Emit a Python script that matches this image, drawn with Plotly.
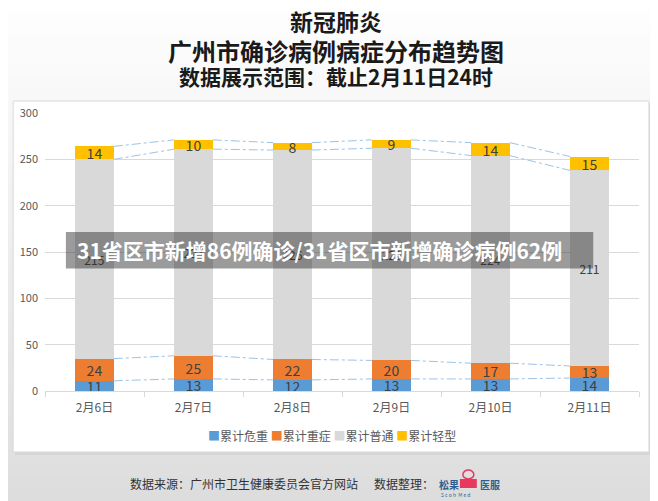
import plotly.graph_objects as go

# 数据
dates = ["2月6日", "2月7日", "2月8日", "2月9日", "2月10日", "2月11日"]
critical = [11, 13, 12, 13, 13, 14]
severe = [24, 25, 22, 20, 17, 13]
common = [215, 223, 226, 229, 224, 211]
mild = [14, 10, 8, 9, 14, 15]
names = ["累计危重", "累计重症", "累计普通", "累计轻型"]
colors = ["#5B9BD5", "#ED7D31", "#D9D9D9", "#FFC000"]

FONT = "Noto Sans CJK SC"
# 页面默认有 8px 的 body 边距，图表整体向左上偏移补偿
OFF = 8
W, H = 658 - OFF, 501 - OFF
L, R, T, B = 42 - OFF, 19, 113 - OFF, 110
PW, PH = W - L - R, H - T - B


def px(x):
    return (x - OFF - L) / PW


def py(y):
    return (H - B - (y - OFF)) / PH


fig = go.Figure()

series = [critical, severe, common, mild]
xs = list(range(len(dates)))
bar_w = 0.39

# 堆积柱
for vals, name, color in zip(series, names, colors):
    fs = 12 if name == "累计普通" else 14
    fig.add_trace(go.Bar(
        x=xs, y=vals, name=name, width=bar_w,
        marker=dict(color=color, line=dict(width=0)),
        text=[str(v) for v in vals],
        textposition="inside", insidetextanchor="middle",
        constraintext="none", textangle=0,
        textfont=dict(family=FONT, size=fs, color="#404040"),
        hoverinfo="skip", showlegend=False,
    ))

# 系列线（连接各段顶部）
cum = [0] * len(dates)
for vals in series:
    cum = [c + v for c, v in zip(cum, vals)]
    lx, ly = [], []
    for i in range(len(dates) - 1):
        lx += [i + bar_w / 2, i + 1 - bar_w / 2, None]
        ly += [cum[i], cum[i + 1], None]
    fig.add_trace(go.Scatter(
        x=lx, y=ly, mode="lines", showlegend=False, hoverinfo="skip",
        line=dict(color="#9DC3E6", width=1, dash="dashdot"),
    ))

shapes = []
# 背景渐变
N = 40
for k in range(N):
    t = k / (N - 1)
    c = int(round(254 - t * (254 - 221)))
    shapes.append(dict(
        type="rect", xref="paper", yref="paper", layer="below",
        x0=px(0), x1=px(700), y0=py(k * 501 / N), y1=py((k + 1) * 501 / N + 1),
        fillcolor=f"rgb({c},{c},{c})", line=dict(width=0),
    ))
# 面板阴影与面板
shapes.append(dict(
    type="rect", xref="paper", yref="paper", layer="below",
    x0=px(12), x1=px(653), y0=py(103), y1=py(455),
    fillcolor="#d6d6d6", line=dict(width=0),
))
shapes.append(dict(
    type="rect", xref="paper", yref="paper", layer="below",
    x0=px(10), x1=px(649), y0=py(101), y1=py(452),
    fillcolor="white", line=dict(color="#d9d9d9", width=1),
))
# 横幅
shapes.append(dict(
    type="rect", xref="paper", yref="paper", layer="above",
    x0=px(63), x1=px(593), y0=py(232), y1=py(268.5),
    fillcolor="rgba(42,42,42,0.47)", line=dict(width=0),
))
# logo 图标
shapes.append(dict(
    type="rect", xref="paper", yref="paper", layer="above",
    x0=px(459), x1=px(476), y0=py(479), y1=py(488),
    fillcolor="#e8385e", line=dict(width=0),
))
shapes.append(dict(
    type="circle", xref="paper", yref="paper", layer="above",
    x0=px(462), x1=px(473), y0=py(470), y1=py(479),
    fillcolor="rgba(0,0,0,0)", line=dict(color="#e8385e", width=1.5),
))

legend_text = " ".join(
    f"<span style='color:{c}'>■</span>{n}" for n, c in zip(names, colors)
)

annotations = [
    dict(text="新冠肺炎", x=0.5, y=py(21)),
    dict(text="广州市确诊病例病症分布趋势图", x=0.5, y=py(50)),
    dict(text="数据展示范围：截止2月11日24时", x=0.5, y=py(76)),
]
title_sizes = [23, 24, 21]
for a, s in zip(annotations, title_sizes):
    a.update(x=px(334), xref="paper", yref="paper", yanchor="middle", showarrow=False,
             font=dict(family=FONT, size=s, color="#1a1a1a", weight="bold"))

annotations += [
    dict(text=legend_text, x=px(330), y=py(435), xref="paper", yref="paper",
         xanchor="center", yanchor="middle", showarrow=False,
         font=dict(family=FONT, size=12, color="#595959")),
    dict(text="31省区市新增86例确诊/31省区市新增确诊病例62例", x=px(72), y=py(250),
         xref="paper", yref="paper", xanchor="left", yanchor="middle", showarrow=False,
         font=dict(family=FONT, size=21, color="white", weight="bold")),
    dict(text="数据来源：广州市卫生健康委员会官方网站", x=px(125), y=py(483),
         xref="paper", yref="paper", xanchor="left", yanchor="middle", showarrow=False,
         font=dict(family=FONT, size=12, color="#333333")),
    dict(text="数据整理：", x=px(371), y=py(483),
         xref="paper", yref="paper", xanchor="left", yanchor="middle", showarrow=False,
         font=dict(family=FONT, size=12, color="#333333")),
    dict(text="松果", x=px(436), y=py(484),
         xref="paper", yref="paper", xanchor="left", yanchor="middle", showarrow=False,
         font=dict(family=FONT, size=10, color="#2e5f8f", weight="bold")),
    dict(text="医服", x=px(477), y=py(484),
         xref="paper", yref="paper", xanchor="left", yanchor="middle", showarrow=False,
         font=dict(family=FONT, size=10, color="#2e5f8f", weight="bold")),
    dict(text="S c o h  M e d", x=px(438), y=py(494),
         xref="paper", yref="paper", xanchor="left", yanchor="middle", showarrow=False,
         font=dict(family=FONT, size=5, color="#2e5f8f")),
]

fig.update_layout(
    width=W, height=H,
    margin=dict(l=L, r=R, t=T, b=B, pad=0),
    paper_bgcolor="#eeeeee", plot_bgcolor="rgba(0,0,0,0)",
    barmode="stack", bargap=0,
    font=dict(family=FONT, color="#595959"),
    showlegend=False,
    shapes=shapes, annotations=annotations,
)

fig.update_xaxes(
    range=[-0.5, len(dates) - 0.5],
    tickvals=xs, ticktext=dates, ticks="",
    tickfont=dict(family=FONT, size=12, color="#595959"),
    ticklabelstandoff=6,
    showgrid=False, zeroline=False,
    showline=True, linecolor="#d9d9d9", linewidth=1,
    minor=dict(tickvals=[i - 0.5 for i in range(len(dates) + 1)],
               ticks="outside", ticklen=5, tickcolor="#d9d9d9", showgrid=False),
)
fig.update_yaxes(
    range=[0, 300], dtick=50,
    tickfont=dict(family=FONT, size=11, color="#595959"),
    ticklabelstandoff=6,
    showgrid=True, gridcolor="#d9d9d9", gridwidth=1,
    zeroline=False, showline=False,
)

fig.write_html("out.html")
